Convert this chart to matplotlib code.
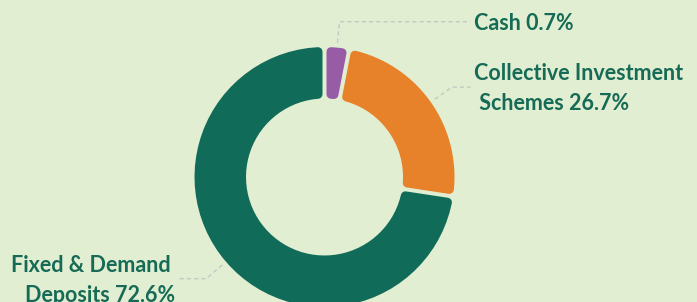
import numpy as np
import matplotlib.pyplot as plt
from matplotlib.patches import Polygon

# chart data
names = ["Cash", "Collective Investment\nSchemes", "Fixed & Demand\nDeposits"]
values = [0.7, 26.7, 72.6]
colors = ["#985ca7", "#e8822a", "#106b59"]

W, H = 697, 302
BG = "#e2eed2"
TEXT = "#156b56"
LINE = "#c6c8c2"

cx, cy = 324.5, H - 177     # ring centre (pixel coords, y up)
R_OUT, R_IN = 130, 78.5
GAP = 4.0                   # px between slices
CORNER = 4.5                # corner radius, px
MIN_ANGLE = 11.0            # tiny slices are drawn at least this wide

PX = 72 / 100               # px -> points


def shown_angles(vals):
    ang = np.array(vals, float) / sum(vals) * 360
    for i in range(len(ang) - 1):
        if ang[i] < MIN_ANGLE:
            ang[i + 1] -= MIN_ANGLE - ang[i]
            ang[i] = MIN_ANGLE
    return ang


def rounded_sector(t1, t2):
    """annular sector between math angles t1<t2, shrunk so a round stroke
    of width 2*CORNER gives the rounded shape"""
    ro, ri = R_OUT - CORNER, R_IN + CORNER
    d = GAP / 2 + CORNER
    do = np.degrees(np.arcsin(d / ro))
    di = np.degrees(np.arcsin(d / ri))
    a_out = np.radians(np.linspace(t2 - do, t1 + do, 60))
    a_in = np.radians(np.linspace(t1 + di, t2 - di, 60))
    xs = np.r_[cx + ro * np.cos(a_out), cx + ri * np.cos(a_in)]
    ys = np.r_[cy + ro * np.sin(a_out), cy + ri * np.sin(a_in)]
    return np.column_stack([xs, ys])


fig = plt.figure(figsize=(W / 100, H / 100), dpi=100, facecolor=BG)
ax = fig.add_axes([0, 0, 1, 1])
ax.set_facecolor(BG)

wedges, _ = ax.pie(shown_angles(values), radius=R_OUT, center=(cx, cy),
                   startangle=90, counterclock=False)

for w, name, val, col in zip(wedges, names, values, colors):
    t1, t2 = w.theta1, w.theta2
    w.remove()
    ax.add_patch(Polygon(rounded_sector(t1, t2), closed=True, fc=col, ec=col,
                         lw=2 * CORNER * PX, joinstyle="round"))

    # leader line
    tm = np.radians((t1 + t2) / 2)
    ux, uy = np.cos(tm), np.sin(tm)
    side = 1 if ux >= 0 else -1
    p0 = (cx + (R_OUT + 5) * ux, cy + (R_OUT + 5) * uy)
    p1 = (cx + (R_OUT + 26) * ux, cy + (R_OUT + 26) * uy)
    p2 = (cx + side * (R_OUT + 16), p1[1])
    ax.plot([p0[0], p1[0], p2[0]], [p0[1], p1[1], p2[1]], color=LINE,
            lw=1.0, ls=(0, (3, 2.2)), solid_capstyle="butt")

    # label, wrapped like the original (space kept at the break)
    lines = f"{name} {val}%".split("\n")
    if side > 0:
        lines = [lines[0]] + [" " + s for s in lines[1:]]
    else:
        lines = [s + " " for s in lines[:-1]] + [lines[-1]]
    n = len(lines)
    for k, s in enumerate(lines):
        yc = p2[1] - (k - (n - 1) / 2) * 30
        ax.text(p2[0] + side * 3, yc - 8, s, ha="left" if side > 0 else "right",
                va="baseline", color=TEXT, fontsize=15.5, fontweight="bold",
                family=["Lato", "DejaVu Sans"])

ax.set_xlim(0, W)
ax.set_ylim(0, H)
ax.set_aspect("auto")
ax.axis("off")

fig.savefig("out.png", dpi=100, facecolor=BG)
